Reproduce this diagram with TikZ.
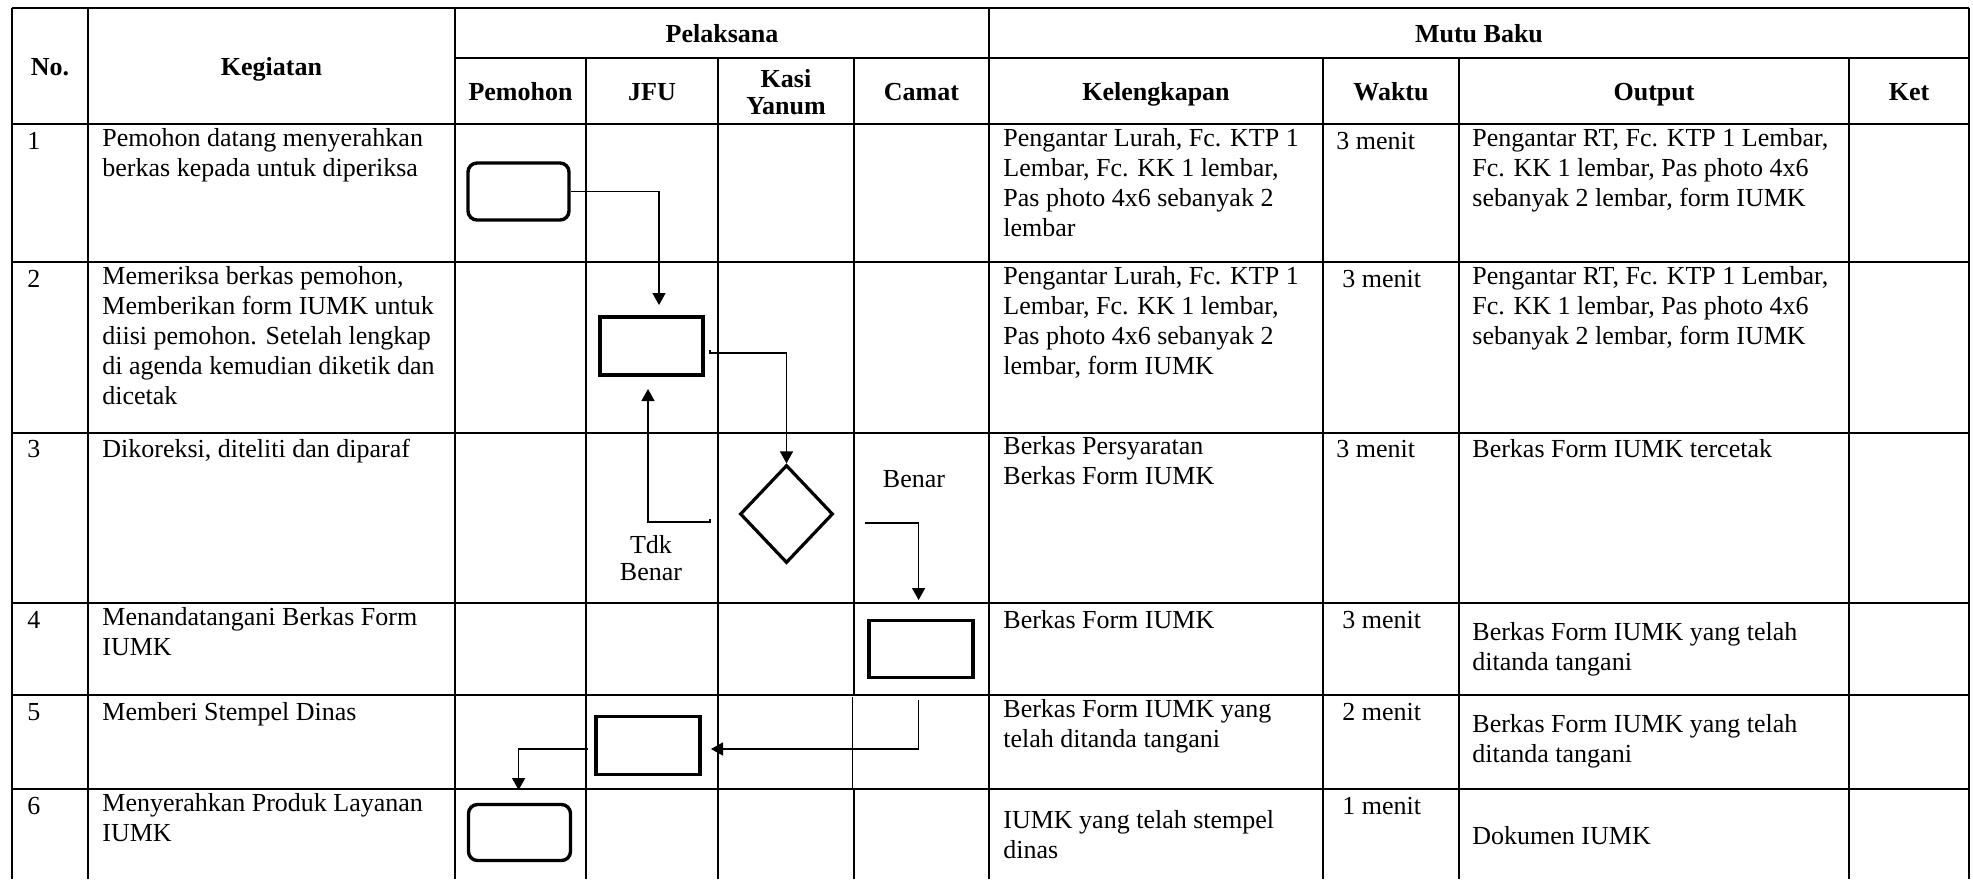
\documentclass[tikz,border=0pt]{standalone}
\usepackage{fontspec}
\setmainfont{Liberation Serif}
\usetikzlibrary{arrows.meta,shapes.geometric}
\newcommand{\cellfont}{\fontsize{13pt}{15pt}\selectfont}
\tikzset{
  tabline/.style={line width=1pt},
  tabthin/.style={line width=0.5pt},
  hd/.style={font=\cellfont\bfseries, inner sep=0pt, anchor=base},
  txt/.style={font=\cellfont, inner sep=0pt, anchor=north west, align=left, execute at begin node=\strut},
  terminal/.style={draw, rounded corners=4.5pt, line width=1.7pt, inner sep=0pt},
  process/.style={draw, line width=1.7pt, inner sep=0pt},
  decision/.style={draw, diamond, line width=1.6pt, inner sep=0pt, minimum width=46.5pt, minimum height=49pt},
  arrowline/.style={line width=0.8pt, -{Triangle[length=6pt,width=6.5pt]}},
  lbl/.style={font=\cellfont, inner sep=0pt, align=center}
}
\begin{document}
\begin{tikzpicture}[x=0.5pt,y=-0.5pt]
\useasboundingbox (0,0) rectangle (1973,879);
\fill[white] (0,0) rectangle (1973,879);
% table lines
\draw[tabline] (11.5,7.5) -- (1969,7.5);
\draw[tabline] (455,58) -- (1969,58);
\foreach \y in {124,262,432.5,603,695,789}
  \draw[tabline] (11.5,\y) -- (1969,\y);
\foreach \x in {11.5,88,455,989,1969}
  \draw[tabline] (\x,7.5) -- (\x,879);
\foreach \x in {586,717.5,1323,1459,1849}
  \draw[tabline] (\x,58) -- (\x,879);
\draw[tabline] (854,58) -- (854,695);
\draw[tabthin] (852.5,697) -- (852.5,789);
\draw[tabline] (854,789) -- (854,879);
% header
\node[hd] (hno) at (50,75) {No.};
\node[hd] (hkeg) at (271.5,75) {Kegiatan};
\node[hd] (hpel) at (722,42) {Pelaksana};
\node[hd] (hmutu) at (1479,42) {Mutu Baku};
\node[hd] (hpem) at (520.5,100) {Pemohon};
\node[hd] (hjfu) at (652,100) {JFU};
\node[hd, anchor=north, align=center, font=\fontsize{13pt}{13.5pt}\selectfont\bfseries] (hkasi) at (786,68) {\strut Kasi\\Yanum};
\node[hd] (hcamat) at (921.5,100) {Camat};
\node[hd] (hkel) at (1156,100) {Kelengkapan};
\node[hd] (hwaktu) at (1391,100) {Waktu};
\node[hd] (hout) at (1654,100) {Output};
\node[hd] (hket) at (1909,100) {Ket};
% row 1
\node[txt] (n1) at (27,128) {1};
\node[txt] (k1) at (102,128) {Pemohon datang menyerahkan\\berkas kepada untuk diperiksa};
\node[txt] (l1) at (1003,128) {Pengantar Lurah, Fc. KTP 1\\Lembar, Fc. KK 1 lembar,\\Pas photo 4x6 sebanyak 2\\lembar};
\node[txt] (w1) at (1336,128) {3 menit};
\node[txt] (o1) at (1472,128) {Pengantar RT, Fc. KTP 1 Lembar,\\Fc. KK 1 lembar, Pas photo 4x6\\sebanyak 2 lembar, form IUMK};
% row 2
\node[txt] (n2) at (27,266) {2};
\node[txt] (k2) at (102,266) {Memeriksa berkas pemohon,\\Memberikan form IUMK untuk\\diisi pemohon. Setelah lengkap\\di agenda kemudian diketik dan\\dicetak};
\node[txt] (l2) at (1003,266) {Pengantar Lurah, Fc. KTP 1\\Lembar, Fc. KK 1 lembar,\\Pas photo 4x6 sebanyak 2\\lembar, form IUMK};
\node[txt] (w2) at (1342,266) {3 menit};
\node[txt] (o2) at (1472,266) {Pengantar RT, Fc. KTP 1 Lembar,\\Fc. KK 1 lembar, Pas photo 4x6\\sebanyak 2 lembar, form IUMK};
% row 3
\node[txt] (n3) at (27,436.5) {3};
\node[txt] (k3) at (102,436.5) {Dikoreksi, diteliti dan diparaf};
\node[txt] (l3) at (1003,436.5) {Berkas Persyaratan\\Berkas Form IUMK};
\node[txt] (w3) at (1336,436.5) {3 menit};
\node[txt] (o3) at (1472,436.5) {Berkas Form IUMK tercetak};
% row 4
\node[txt] (n4) at (27,607) {4};
\node[txt] (k4) at (102,607) {Menandatangani Berkas Form\\IUMK};
\node[txt] (l4) at (1003,607) {Berkas Form IUMK};
\node[txt] (w4) at (1342,607) {3 menit};
\node[txt] (o4) at (1472,622) {Berkas Form IUMK yang telah\\ditanda tangani};
% row 5
\node[txt] (n5) at (27,699) {5};
\node[txt] (k5) at (102,699) {Memberi Stempel Dinas};
\node[txt] (l5) at (1003,699) {Berkas Form IUMK yang\\telah ditanda tangani};
\node[txt] (w5) at (1342,699) {2 menit};
\node[txt] (o5) at (1472,714) {Berkas Form IUMK yang telah\\ditanda tangani};
% row 6
\node[txt] (n6) at (27,793) {6};
\node[txt] (k6) at (102,793) {Menyerahkan Produk Layanan\\IUMK};
\node[txt] (l6) at (1003,810) {IUMK yang telah stempel\\dinas};
\node[txt] (w6) at (1342,793) {1 menit};
\node[txt] (o6) at (1472,823) {Dokumen IUMK};
% flow shapes
\node[terminal, minimum width=50.5pt, minimum height=28.5pt] (term1) at (518.5,191.5) {};
\node[process, minimum width=51.5pt, minimum height=29pt] (proc1) at (651.5,346) {};
\node[decision] (dec) at (786.5,514) {};
\node[process, minimum width=52pt, minimum height=28.5pt] (proc2) at (921,649) {};
\node[process, minimum width=52pt, minimum height=28.8pt] (proc3) at (648,745.5) {};
\node[terminal, minimum width=51pt, minimum height=28pt] (term2) at (519.5,832.5) {};
% arrow ends
\coordinate (a1) at (659,305);
\coordinate (b0) at (710,350);
\coordinate (c0) at (710,519);
\coordinate (c1) at (648,389);
\coordinate (d0) at (865,523);
\coordinate (d1) at (918.6,600);
\coordinate (e0) at (918.6,700);
\coordinate (e1) at (711,749);
\coordinate (f0) at (588,749);
\coordinate (f1) at (518.6,790);
\draw[arrowline] (term1.east) -| (a1);
\draw[arrowline] (b0) -- ++(0,3) -| (dec.north);
\draw[arrowline] (c0) -- ++(0,3) -| (c1);
\draw[arrowline] (d0) -| (d1);
\draw[arrowline] (e0) |- (e1);
\draw[arrowline] (f0) -| (f1);
% labels
\node[lbl, anchor=base] (benar) at (914,487) {Benar};
\node[lbl, anchor=north, font=\fontsize{13pt}{13.5pt}\selectfont] (tdk) at (651,534) {\strut Tdk\\Benar};
\end{tikzpicture}
\end{document}
